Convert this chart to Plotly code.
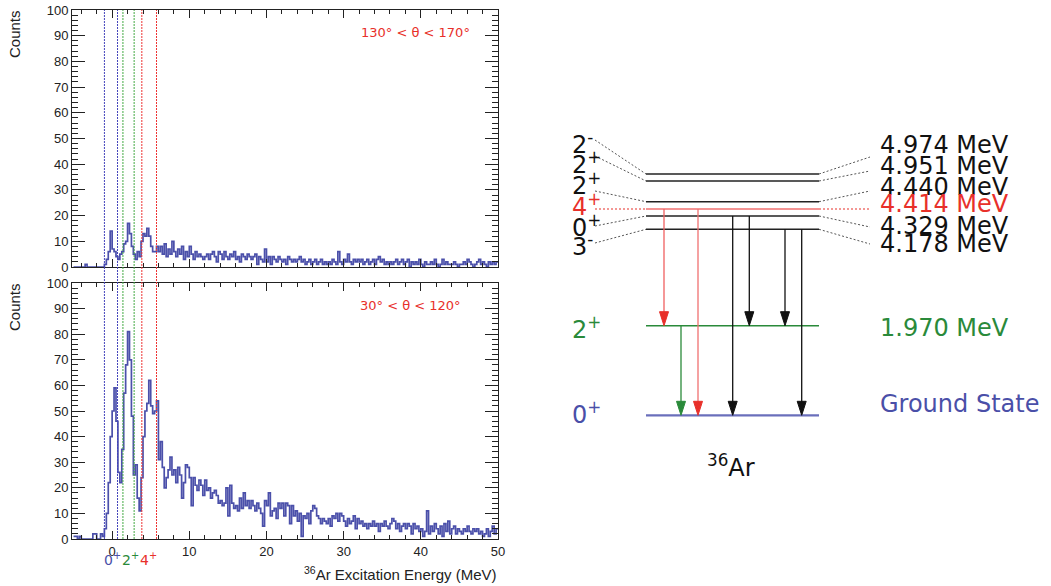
import plotly.graph_objects as go

# ---------------- DATA ----------------
bin_width = 0.25
x_start = -5.0

# 130 deg < theta < 170 deg (top panel), bins of 0.25 MeV starting at -5 MeV
counts_back = [
    0, 0, 0, 0, 0, 0, 1, 0, 0, 0, 0, 0, 0, 0, 0, 0,
    1, 3, 6, 14, 7, 6, 4, 3, 5, 6, 9, 10, 17, 13, 8, 5, 3, 6, 4, 10, 13, 12, 15, 12, 8, 6, 6, 8,
    6, 8, 5, 9, 4, 7, 5, 10, 6, 4, 7, 5, 8, 3, 6, 4,
    8, 5, 3, 6, 4, 5, 4, 3, 4, 5, 3, 5, 6, 4, 2, 6,
    5, 3, 6, 4, 3, 5, 4, 6, 3, 4, 2, 5, 4, 3, 5, 4,
    3, 4, 5, 1, 4, 3, 2, 7, 2, 4, 1, 4, 3, 2, 4, 3,
    2, 3, 1, 4, 3, 2, 3, 2, 3, 4, 2, 3, 1, 2, 3, 1,
    2, 3, 1, 2, 3, 1, 2, 1, 2, 1, 3, 2, 1, 6, 2, 1,
    3, 2, 5, 2, 1, 3, 2, 3, 2, 3, 1, 2, 3, 1, 2, 3,
    1, 3, 4, 2, 3, 1, 2, 1, 2, 1, 2, 3, 1, 2, 3, 1,
    2, 3, 0, 2, 1, 2, 1, 3, 1, 0, 2, 1, 1, 2, 1, 3,
    1, 0, 1, 3, 1, 2, 1, 1, 1, 2, 1, 0, 1, 1, 2, 1,
    3, 2, 1, 0, 1, 2, 3, 1, 2, 1, 0, 2, 1, 2, 1, 2,
]

# 30 deg < theta < 120 deg (bottom panel)
counts_fwd = [
    1, 1, 0, 1, 0, 0, 0, 0, 0, 0, 2, 2, 0, 0, 2, 1,
    4, 10, 22, 40, 50, 59, 46, 26, 22, 35, 57, 68, 81, 70, 48, 25, 29, 16, 11, 24, 40, 50, 53, 62, 52, 49, 50, 54,
    31, 38, 28, 20, 24, 27, 32, 25, 27, 22, 28, 25, 16, 22, 29, 28,
    24, 13, 24, 21, 19, 23, 21, 17, 23, 19, 20, 16, 18, 19, 17, 14,
    15, 13, 14, 20, 9, 21, 14, 12, 13, 11, 16, 12, 18, 13, 15, 12,
    15, 13, 11, 14, 12, 10, 5, 15, 13, 18, 9, 11, 12, 8, 14, 12,
    14, 9, 14, 13, 6, 13, 9, 11, 7, 10, 1, 9, 8, 10, 6, 11,
    13, 12, 9, 8, 6, 8, 7, 6, 8, 5, 9, 8, 10, 7, 10, 9,
    7, 5, 8, 6, 7, 9, 4, 8, 6, 7, 5, 6, 4, 6, 5, 7,
    5, 6, 3, 6, 5, 7, 5, 4, 6, 8, 7, 4, 6, 3, 5, 6,
    4, 6, 5, 2, 6, 4, 5, 3, 4, 1, 3, 11, 2, 5, 3, 6,
    4, 2, 5, 1, 6, 3, 7, 2, 4, 5, 2, 4, 3, 2, 4, 3,
    5, 3, 2, 4, 3, 4, 2, 3, 1, 2, 4, 1, 3, 5, 2, 4,
]

# gate edges (MeV) drawn as dotted lines
gate_0plus = [-1.0, 0.7]
gate_2plus = [1.4, 2.85]
gate_4plus = [3.85, 5.75]

x_ticks = [0, 10, 20, 30, 40, 50]
y_ticks = [0, 10, 20, 30, 40, 50, 60, 70, 80, 90, 100]

# level scheme of 36Ar
level_energy = ["4.974", "4.951", "4.440", "4.414", "4.329", "4.178"]
level_spin = ["2<sup>-</sup>", "2<sup>+</sup>", "2<sup>+</sup>", "4<sup>+</sup>", "0<sup>+</sup>", "3<sup>-</sup>"]
level_color = ["#111111", "#111111", "#111111", "#e8302a", "#111111", "#111111"]
low_energy = ["1.970 MeV", "Ground State"]
low_spin = ["2<sup>+</sup>", "0<sup>+</sup>"]

# ---------------- STYLE / LAYOUT POSITIONS (pixels of the schematic) ----------------
W, H = 1051, 586
BLUE = "#4a4fa8"
GREEN = "#2a8a3a"
RED = "#e8302a"
HIST = "#4b50aa"

px_l, px_r = 72, 498
top_t, top_b = 10, 267
bot_t, bot_b = 283, 539

lvl_x0, lvl_x1 = 646, 819
lab_l_end, lab_r_start = 595, 870
level_y = [174, 181, 201.7, 209, 216, 229.3]
left_join_y = [140, 156, 191, 209, 226, 243]
right_join_y = [157, 171, 191, 209, 227, 244]
left_text_y = [143, 163, 184, 205, 226, 245]
right_text_y = [145, 166, 187, 204, 226, 244]
y_2plus, y_gs = 325.7, 415.3

fig = go.Figure()


def edges(counts):
    return [x_start + i * bin_width for i in range(len(counts) + 1)]


fig.add_trace(go.Scatter(x=edges(counts_back), y=counts_back + [counts_back[-1]], mode="lines",
                         line=dict(color=HIST, width=1.7, shape="hv"), xaxis="x", yaxis="y",
                         showlegend=False, hoverinfo="skip"))
fig.add_trace(go.Scatter(x=edges(counts_fwd), y=counts_fwd + [counts_fwd[-1]], mode="lines",
                         line=dict(color=HIST, width=1.7, shape="hv"), xaxis="x2", yaxis="y2",
                         showlegend=False, hoverinfo="skip"))

shapes = []
for vals, col in [(gate_0plus, "#4444bb"), (gate_2plus, "#44aa44"), (gate_4plus, "#ee3333")]:
    for v in vals:
        shapes.append(dict(type="line", xref="x2", yref="paper", x0=v, x1=v,
                           y0=1 - bot_b / H, y1=1 - top_t / H,
                           line=dict(color=col, width=1, dash="2px,1px"), layer="above"))


# ---------------- level scheme traces (axis x3/y3 in schematic pixels) ----------------
def seg(x0, y0, x1, y1, color, width=1.0, dash="solid"):
    fig.add_trace(go.Scatter(x=[x0, x1], y=[y0, y1], mode="lines",
                             line=dict(color=color, width=width, dash=dash),
                             xaxis="x3", yaxis="y3", showlegend=False, hoverinfo="skip"))


for i in range(len(level_energy)):
    if level_color[i] == RED:
        seg(lvl_x0, level_y[i], lvl_x1, level_y[i], "#f07070", 1.5)
        seg(lab_l_end, level_y[i], lvl_x0, level_y[i], RED, 1.2, "2px,2px")
        seg(lvl_x1, level_y[i], lab_r_start, level_y[i], RED, 1.2, "2px,2px")
    else:
        seg(lvl_x0, level_y[i], lvl_x1, level_y[i], "#222222", 1.6)
        seg(lab_l_end, left_join_y[i], lvl_x0, level_y[i], "#555555", 1, "2px,2px")
        seg(lvl_x1, level_y[i], lab_r_start, right_join_y[i], "#555555", 1, "2px,2px")

seg(lvl_x0, y_2plus, lvl_x1, y_2plus, GREEN, 1.4)
seg(lvl_x0, y_gs, lvl_x1, y_gs, "#6a6fbb", 2.2)

# transitions: (x, from y, to y, line colour, head colour)
transitions = [
    (664, level_y[3], y_2plus, "#f06060", RED),
    (698, level_y[3], y_gs, "#f07070", RED),
    (732.7, level_y[4], y_gs, "#111111", "#111111"),
    (749.3, level_y[4], y_2plus, "#111111", "#111111"),
    (785, level_y[5], y_2plus, "#111111", "#111111"),
    (801.7, level_y[5], y_gs, "#111111", "#111111"),
    (681, y_2plus, y_gs, GREEN, GREEN),
]
head_len, head_half = 14, 4.5
for x, y0, y1, lc, hc in transitions:
    seg(x, y0, x, y1 - head_len + 1, lc, 1.3)
    fig.add_trace(go.Scatter(x=[x - head_half, x + head_half, x, x - head_half],
                             y=[y1 - head_len, y1 - head_len, y1, y1 - head_len],
                             mode="lines", fill="toself", fillcolor=hc, line=dict(color=hc, width=1),
                             xaxis="x3", yaxis="y3", showlegend=False, hoverinfo="skip"))

ann = []
DJ = "DejaVu Sans"
for i in range(len(level_energy)):
    ann.append(dict(x=570, y=left_text_y[i], xref="x3", yref="y3", text=level_spin[i],
                    xanchor="left", yanchor="middle", showarrow=False,
                    font=dict(family=DJ, size=24, color=level_color[i])))
    ann.append(dict(x=878, y=right_text_y[i], xref="x3", yref="y3", text=level_energy[i] + " MeV",
                    xanchor="left", yanchor="middle", showarrow=False,
                    font=dict(family=DJ, size=24, color=level_color[i])))
for txt, yy, col in [(low_energy[0], 328, GREEN), (low_energy[1], 404, BLUE)]:
    ann.append(dict(x=878, y=yy, xref="x3", yref="y3", text=txt, xanchor="left", yanchor="middle",
                    showarrow=False, font=dict(family=DJ, size=24, color=col)))
ann.append(dict(x=570, y=328, xref="x3", yref="y3", text=low_spin[0], xanchor="left", yanchor="middle",
                showarrow=False, font=dict(family=DJ, size=24, color=GREEN)))
ann.append(dict(x=570, y=413, xref="x3", yref="y3", text=low_spin[1], xanchor="left", yanchor="middle",
                showarrow=False, font=dict(family=DJ, size=24, color=BLUE)))
ann.append(dict(x=731, y=466, xref="x3", yref="y3", text="<sup>36</sup>Ar", xanchor="center",
                yanchor="middle", showarrow=False, font=dict(family=DJ, size=24, color="#111111")))

# left panel texts
LS = "Liberation Sans"
ann.append(dict(x=15 / W, y=1 - 8 / H, xref="paper", yref="paper", text="Counts", textangle=-90,
                xanchor="center", yanchor="top", showarrow=False, font=dict(family=LS, size=15, color="#222")))
ann.append(dict(x=15 / W, y=1 - 281 / H, xref="paper", yref="paper", text="Counts", textangle=-90,
                xanchor="center", yanchor="top", showarrow=False, font=dict(family=LS, size=15, color="#222")))
ann.append(dict(x=499 / W, y=1 - 573 / H, xref="paper", yref="paper",
                text="<sup>36</sup>Ar Excitation Energy (MeV)", xanchor="right", yanchor="middle",
                showarrow=False, font=dict(family=LS, size=15, color="#222")))
ann.append(dict(x=472 / W, y=1 - 33 / H, xref="paper", yref="paper", text="130° < θ < 170°",
                xanchor="right", yanchor="middle", showarrow=False, font=dict(family=DJ, size=13, color=RED)))
ann.append(dict(x=463 / W, y=1 - 305 / H, xref="paper", yref="paper", text="30° < θ < 120°",
                xanchor="right", yanchor="middle", showarrow=False, font=dict(family=DJ, size=13, color=RED)))
for txt, xc, col in [("0<sup>+</sup>", 112, BLUE), ("2<sup>+</sup>", 130, GREEN), ("4<sup>+</sup>", 148, RED)]:
    ann.append(dict(x=xc / W, y=1 - 559 / H, xref="paper", yref="paper", text=txt, xanchor="center",
                    yanchor="middle", showarrow=False, font=dict(family=DJ, size=14, color=col)))

xax_common = dict(range=[-5.2, 50], showgrid=False, zeroline=False, showline=True, linecolor="#222",
                  linewidth=1, mirror="allticks", ticks="inside", ticklen=8, tickcolor="#222",
                  tickvals=x_ticks, minor=dict(dtick=2, ticks="inside", ticklen=4, tickcolor="#222"),
                  tickfont=dict(family=LS, size=13, color="#222"), automargin=False,
                  domain=[px_l / W, px_r / W])
yax_common = dict(range=[0, 100], showgrid=False, zeroline=False, showline=True, linecolor="#222",
                  linewidth=1, mirror="allticks", ticks="inside", ticklen=13, tickcolor="#222",
                  tickvals=y_ticks, minor=dict(dtick=2, ticks="inside", ticklen=6, tickcolor="#222"),
                  tickfont=dict(family=LS, size=13, color="#222"), automargin=False)

fig.update_layout(
    width=W, height=H, margin=dict(l=0, r=0, t=0, b=0, autoexpand=False),
    paper_bgcolor="white", plot_bgcolor="white",
    xaxis=dict(**xax_common, anchor="y", showticklabels=False),
    yaxis=dict(**yax_common, anchor="x", domain=[1 - top_b / H, 1 - top_t / H]),
    xaxis2=dict(**xax_common, anchor="y2"),
    yaxis2=dict(**yax_common, anchor="x2", domain=[1 - bot_b / H, 1 - bot_t / H]),
    xaxis3=dict(domain=[540 / W, 1], range=[540, W], visible=False, anchor="y3", automargin=False),
    yaxis3=dict(domain=[0, 1], range=[H, 0], visible=False, anchor="x3", automargin=False),
    shapes=shapes, annotations=ann, showlegend=False,
)

fig.write_html("out.html", config={"displayModeBar": False},
               post_script="document.body.style.margin='0px';document.body.style.overflow='hidden';")
